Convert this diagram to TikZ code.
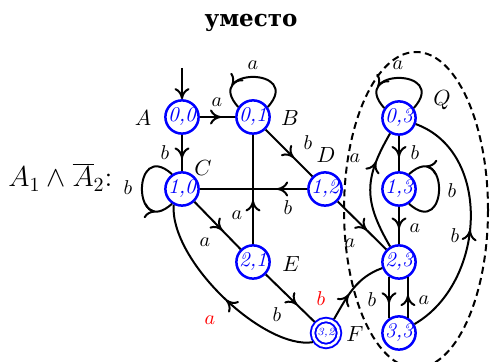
\documentclass[tikz,border=0pt]{standalone}
\usepackage{fontspec}
\newfontfamily\titlefont{DejaVu Serif}
\usetikzlibrary{arrows.meta,decorations.markings}
\newcommand\mkloop[3]{%
  \pgfmathtruncatemacro\la{#2-56}\pgfmathtruncatemacro\lb{#2+56}%
  \pgfmathtruncatemacro\ca{#2-42}\pgfmathtruncatemacro\cb{#2+42}%
  \draw[ed,ma=#3] (#1.\la) .. controls +(\ca:27pt) and +(\cb:27pt) .. (#1.\lb);}
\begin{document}
\begin{tikzpicture}[x=0.5pt,y=0.5pt,
  >={Computer Modern Rightarrow[length=5.5pt,width=7.5pt,line width=1pt]},
  st/.style={circle,draw=blue,line width=1.25pt,minimum size=16.5pt,inner sep=0pt,text=blue,font=\fontsize{10.5}{12}\selectfont\itshape},
  fin/.style={circle,draw=blue,double,double distance=1.3pt,line width=0.95pt,minimum size=13pt,inner sep=0pt,outer sep=1.5pt,text=blue,font=\fontsize{5.5}{6}\selectfont\itshape},
  ed/.style={line width=1pt},
  ma/.style={postaction={decorate},decoration={markings,mark=at position #1 with {\arrow{>}}}},
  lbl/.style={font=\fontsize{10}{11}\selectfont, inner sep=0pt},
  slbl/.style={font=\fontsize{11}{12}\selectfont, inner sep=0pt},
]
\useasboundingbox (0,0) rectangle (492,362);
% title and formula
\node[anchor=base,inner sep=0pt,font=\titlefont\bfseries\fontsize{11.5}{13}\selectfont] (title) at (251,335) {уместо};
\node[anchor=base west,inner sep=0pt,font=\fontsize{14}{16}\selectfont] (formula) at (8,175) {$A_1\wedge\overline{A}_2\colon$};
% dashed region
\draw[line width=1pt,dash pattern=on 3.5pt off 2.2pt] (416,152) ellipse [x radius=36pt,y radius=79pt];
% states
\node[st] (n00) at (182,245) {0,0};
\node[st] (n01) at (253,245) {0,1};
\node[st] (n10) at (182,173) {1,0};
\node[st] (n12) at (325,173) {1,2};
\node[st] (n21) at (253,100) {2,1};
\node[fin] (n32) at (326,29) {3,2};
\node[st] (n03) at (399,244) {0,3};
\node[st] (n13) at (399,173) {1,3};
\node[st] (n23) at (399,100) {2,3};
\node[st] (n33) at (399,29) {3,3};
% state names
\node[slbl] (sA) at (143,244) {$A$};
\node[slbl] (sB) at (290,244) {$B$};
\node[slbl] (sC) at (203,194) {$C$};
\node[slbl] (sD) at (326,207) {$D$};
\node[slbl] (sE) at (291,98) {$E$};
\node[slbl] (sF) at (355,28) {$F$};
\node[slbl] (sQ) at (442,262) {$Q$};
% initial arrow
\coordinate (init) at (182,294);
\draw[ed,->] (init) -- (n00);
% edges
\draw[ed,ma=0.6] (n00) -- (n01);
\draw[ed,ma=0.65] (n00) -- (n10);
\draw[ed,ma=0.6] (n01) -- (n12);
\draw[ed,ma=0.28] (n12) -- (n10);
\draw[ed,ma=0.4] (n21) -- (n01);
\draw[ed,ma=0.6] (n10) -- (n21);
\draw[ed,ma=0.64] (n21) -- (n32);
\draw[ed,ma=0.47] (n32.215) .. controls (265,12) and (170,100) .. (n10.242);
\draw[ed,ma=0.4] (n32) to[out=60,in=200] (n23);
\draw[ed,ma=0.6] (n12) -- (n23);
\draw[ed,ma=0.74] (n23) to[out=120,in=240,looseness=1.2] (n03);
\draw[ed,ma=0.6] (n03) -- (n13);
\draw[ed,ma=0.58] (n13) -- (n23);
\draw[ed,ma=0.64] (n23.236) -- (n33.124);
\draw[ed,ma=0.56] (n33.60) -- (n23.300);
\draw[ed,ma=0.47] (n33) to[out=30,in=-20,looseness=1.05] (n03);
% loops
\mkloop{n01}{90}{0.75}
\mkloop{n10}{180}{0.8}
\mkloop{n03}{90}{0.75}
\mkloop{n13}{0}{0.8}
% edge labels
\node[lbl] (la1) at (217,260) {$a$};
\node[lbl] (la2) at (253,297) {$a$};
\node[lbl] (lb1) at (165,209) {$b$};
\node[lbl] (lb2) at (128,174) {$b$};
\node[lbl] (lb3) at (308,219) {$b$};
\node[lbl] (lb4) at (288,154) {$b$};
\node[lbl] (la3) at (237,147) {$a$};
\node[lbl] (la4) at (205,120) {$a$};
\node[lbl] (lb5) at (277,47) {$b$};
\node[lbl,red] (la5) at (210,42) {$a$};
\node[lbl,red] (lb6) at (321,63) {$b$};
\node[lbl] (la6) at (350,119) {$a$};
\node[lbl] (la7) at (355,204) {$a$};
\node[lbl] (la8) at (398,297) {$a$};
\node[lbl] (lb7) at (415,209) {$b$};
\node[lbl] (lb8) at (452,171) {$b$};
\node[lbl] (la9) at (415,134) {$a$};
\node[lbl] (lb9) at (372,62) {$b$};
\node[lbl] (la10) at (424,62) {$a$};
\node[lbl] (lb10) at (455,126) {$b$};
\end{tikzpicture}
\end{document}
